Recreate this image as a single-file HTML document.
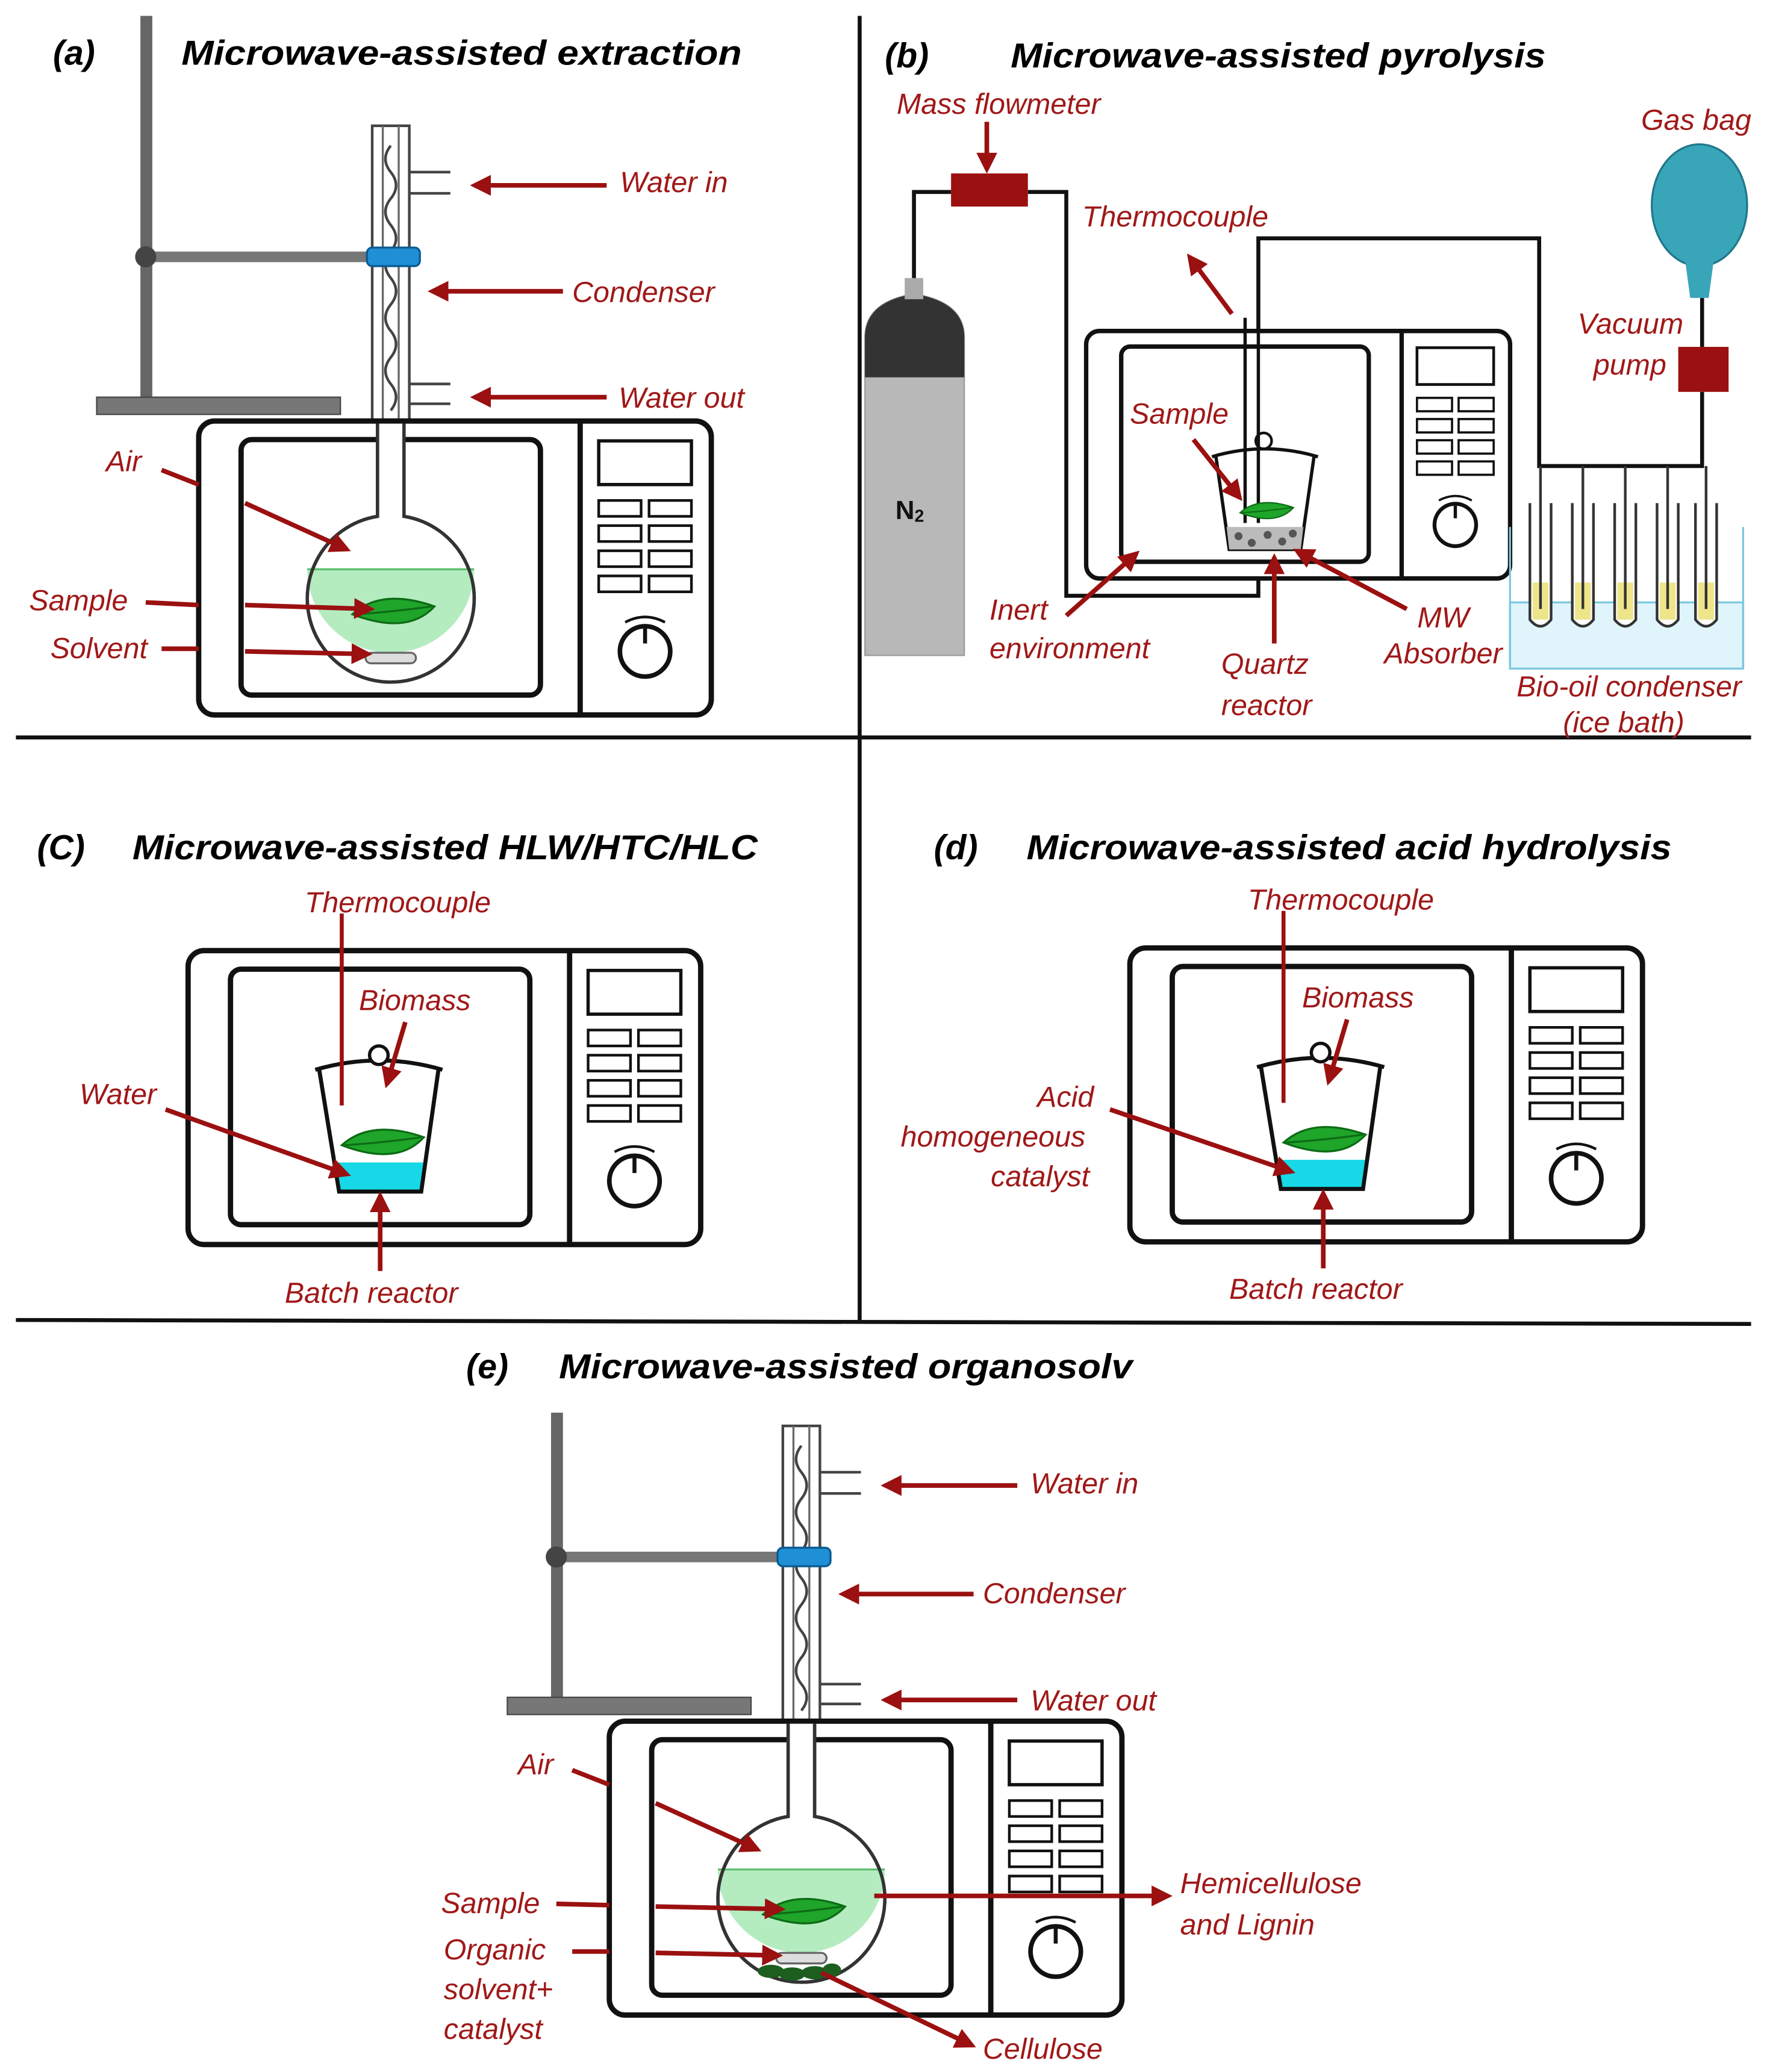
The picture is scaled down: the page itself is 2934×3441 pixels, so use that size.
<!DOCTYPE html>
<html><head><meta charset="utf-8">
<style>
html,body{margin:0;padding:0;background:#fff;}
svg{display:block;}
.t{font-family:"Liberation Sans",sans-serif;font-weight:bold;font-style:italic;font-size:26px;fill:#000;}
.l{font-family:"Liberation Sans",sans-serif;font-style:italic;font-size:22px;fill:#a01818;}
.a{stroke:#9b1010;stroke-width:3.5;fill:none;}
.k{stroke:#111;fill:none;}
</style></head>
<body>
<svg width="2934" height="3441" viewBox="0 0 1334 1565" preserveAspectRatio="none" xmlns="http://www.w3.org/2000/svg">
<defs>
<marker id="ar" viewBox="0 0 10 10" refX="8" refY="5" markerWidth="4.5" markerHeight="4.5" orient="auto-start-reverse">
<path d="M0,0 L10,5 L0,10 z" fill="#9b1010"/></marker>
<g id="leaf">
<path d="M-32,2 Q-10,-18 30,-4 Q10,18 -32,2 z" fill="#1ea52a" stroke="#0d6b15" stroke-width="1.5"/>
<path d="M-30,2 Q0,0 28,-4" stroke="#0d6b15" stroke-width="1.5" fill="none"/>
</g>
<g id="mw">
<rect x="0" y="0" width="387" height="222" rx="12" fill="#fff" stroke="#111" stroke-width="4"/>
<rect x="32" y="14" width="226" height="193" rx="8" fill="#fff" stroke="#111" stroke-width="4"/>
<line x1="288" y1="0" x2="288" y2="222" stroke="#111" stroke-width="4"/>
<rect x="302" y="15" width="70" height="33" fill="#fff" stroke="#111" stroke-width="2.5"/>
<g fill="#fff" stroke="#111" stroke-width="2">
<rect x="302" y="60" width="32" height="12"/><rect x="340" y="60" width="32" height="12"/>
<rect x="302" y="79" width="32" height="12"/><rect x="340" y="79" width="32" height="12"/>
<rect x="302" y="98" width="32" height="12"/><rect x="340" y="98" width="32" height="12"/>
<rect x="302" y="117" width="32" height="12"/><rect x="340" y="117" width="32" height="12"/>
</g>
<circle cx="337" cy="174" r="19" fill="#fff" stroke="#111" stroke-width="3.5"/>
<line x1="337" y1="155" x2="337" y2="168" stroke="#111" stroke-width="3"/>
<path d="M322,152 Q337,144 352,152" stroke="#111" stroke-width="2" fill="none"/>
</g>
<g id="ext">
<rect x="73" y="300" width="184" height="13" fill="#777" stroke="#444" stroke-width="1"/>
<rect x="110" y="190" width="172" height="8" fill="#777"/>
<rect x="281" y="95" width="28" height="228" fill="#fff" stroke="#444" stroke-width="2"/>
<path d="M289,95 L289,320 M301,95 L301,320" stroke="#666" stroke-width="1.5" fill="none"/>
<path d="M295,110 q-8,10 0,20 q8,10 0,20 q-8,10 0,20 q8,10 0,20 q-8,10 0,20 q8,10 0,20 q-8,10 0,20 q8,10 0,20 q-8,10 0,20 q8,10 0,20" stroke="#444" stroke-width="2" fill="none"/>
<path d="M309,130 L340,130 M309,146 L340,146 M309,290 L340,290 M309,305 L340,305" stroke="#444" stroke-width="2"/>
<rect x="277" y="187" width="40" height="14" rx="4" fill="#1f8fd6" stroke="#0b5a90" stroke-width="1.5"/>
<use href="#mw" x="150" y="318"/>
<path d="M285,320 L285,390 A63,63 0 1 0 305,390 L305,320" fill="#fff" stroke="#333" stroke-width="2.5"/>
<path d="M232,430 L358,430 A63,63 0 0 1 232,430 z" fill="#b4ecc0"/>
<line x1="232" y1="430" x2="358" y2="430" stroke="#5bbf6e" stroke-width="1.5"/>
<path d="M285,320 L285,390 A63,63 0 1 0 305,390 L305,320" fill="none" stroke="#333" stroke-width="2.5"/>
<use href="#leaf" x="298" y="462"/>
<rect x="276" y="493" width="38" height="8" rx="4" fill="#ddd" stroke="#666" stroke-width="1.5"/>
</g>
<g id="beaker">
<path d="M-45,0 L-30,92 L32,92 L45,0" fill="#fff" stroke="#111" stroke-width="3"/>
<path d="M-48,0 Q0,-14 48,0" fill="none" stroke="#111" stroke-width="3"/>
<circle cx="0" cy="-11" r="7" fill="#fff" stroke="#111" stroke-width="2.5"/>
<path d="M-35,70 L35,70 L32,92 L-30,92 z" fill="#16d8e6"/>
<path d="M-45,0 L-30,92 L32,92 L45,0" fill="none" stroke="#111" stroke-width="3"/>
<use href="#leaf" x="4" y="55"/>
</g>
</defs>

<line x1="12" y1="557" x2="1322" y2="557" stroke="#111" stroke-width="3"/>
<line x1="12" y1="997" x2="1322" y2="1000" stroke="#111" stroke-width="3"/>
<line x1="649" y1="12" x2="649" y2="997" stroke="#111" stroke-width="3"/>

<!-- (a) -->
<text class="t" x="40" y="49">(a)</text>
<text class="t" x="137" y="49" textLength="423" lengthAdjust="spacingAndGlyphs">Microwave-assisted extraction</text>
<rect x="106" y="12" width="9" height="290" fill="#666"/>
<use href="#ext"/>
<circle cx="110" cy="194" r="8" fill="#444"/>
<line class="a" x1="458" y1="140" x2="358" y2="140" marker-end="url(#ar)"/>
<text class="l" x="468" y="145">Water in</text>
<line class="a" x1="425" y1="220" x2="326" y2="220" marker-end="url(#ar)"/>
<text class="l" x="432" y="228">Condenser</text>
<line class="a" x1="458" y1="300" x2="358" y2="300" marker-end="url(#ar)"/>
<text class="l" x="467" y="308">Water out</text>
<text class="l" x="80" y="356">Air</text>
<line class="a" x1="122" y1="355" x2="150" y2="366"/>
<line class="a" x1="185" y1="380" x2="262" y2="415" marker-end="url(#ar)"/>
<text class="l" x="22" y="461">Sample</text>
<line class="a" x1="110" y1="455" x2="150" y2="457"/>
<line class="a" x1="185" y1="457" x2="280" y2="460" marker-end="url(#ar)"/>
<text class="l" x="38" y="497">Solvent</text>
<line class="a" x1="122" y1="490" x2="150" y2="490"/>
<line class="a" x1="185" y1="492" x2="278" y2="494" marker-end="url(#ar)"/>

<!-- (b) -->
<text class="t" x="668" y="51">(b)</text>
<text class="t" x="763" y="51" textLength="404" lengthAdjust="spacingAndGlyphs">Microwave-assisted pyrolysis</text>
<path d="M690,215 L690,145 L718,145 M776,145 L805,145 L805,450 L950,450 L950,418" class="k" stroke-width="3"/>
<path d="M950,390 L950,180 L1162,180 L1162,352 L1285,352 L1285,296 M1285,262 L1285,225" class="k" stroke-width="3"/>
<rect x="718" y="131" width="58" height="25" fill="#9b1010"/>
<text class="l" x="677" y="86">Mass flowmeter</text>
<line class="a" x1="745" y1="92" x2="745" y2="128" marker-end="url(#ar)"/>
<path d="M653,495 L653,255 Q653,228 690,222 Q728,228 728,255 L728,495 z" fill="#b8b8b8" stroke="#999" stroke-width="1"/>
<path d="M653,285 L653,255 Q653,228 690,222 Q728,228 728,255 L728,285 z" fill="#333"/>
<rect x="683" y="210" width="14" height="16" fill="#aaa"/>
<text x="676" y="392" font-family="Liberation Sans,sans-serif" font-weight="bold" font-size="20" fill="#111">N<tspan font-size="13" dy="2">2</tspan></text>
<use href="#mw" transform="translate(820,250) scale(0.827,0.842)"/>
<path d="M918,345 L928,415 L982,415 L992,345" fill="#fff" stroke="#111" stroke-width="2.5"/>
<path d="M915,345 Q955,333 995,345" fill="none" stroke="#111" stroke-width="2.5"/>
<circle cx="954" cy="333" r="6" fill="#fff" stroke="#111" stroke-width="2"/>
<path d="M926,398 L984,398 L982,415 L928,415 z" fill="#bbb"/>
<g fill="#555"><circle cx="935" cy="405" r="3"/><circle cx="945" cy="410" r="3"/><circle cx="957" cy="404" r="3"/><circle cx="968" cy="409" r="3"/><circle cx="976" cy="403" r="3"/></g>
<line x1="940" y1="240" x2="940" y2="395" stroke="#111" stroke-width="2.5"/>
<line x1="950" y1="180" x2="950" y2="395" stroke="#111" stroke-width="2.5"/>
<use href="#leaf" transform="translate(957,386) scale(0.65)"/>
<text class="l" x="817" y="171">Thermocouple</text>
<line class="a" x1="930" y1="237" x2="898" y2="194" marker-end="url(#ar)"/>
<text class="l" x="853" y="320">Sample</text>
<line class="a" x1="901" y1="332" x2="936" y2="376" marker-end="url(#ar)"/>
<text class="l" x="747" y="468">Inert</text>
<text class="l" x="747" y="497">environment</text>
<line class="a" x1="805" y1="465" x2="858" y2="418" marker-end="url(#ar)"/>
<text class="l" x="922" y="509">Quartz</text>
<text class="l" x="922" y="540">reactor</text>
<line class="a" x1="962" y1="486" x2="962" y2="421" marker-end="url(#ar)"/>
<text class="l" x="1070" y="474" font-size="20">MW</text>
<text class="l" x="1045" y="501" font-size="20">Absorber</text>
<line class="a" x1="1062" y1="460" x2="979" y2="416" marker-end="url(#ar)"/>
<ellipse cx="1283" cy="155" rx="36" ry="46" fill="#38a6b8" stroke="#21778a" stroke-width="1.5"/>
<path d="M1272,195 L1276,225 L1290,225 L1294,195 z" fill="#38a6b8"/>
<rect x="1267" y="262" width="38" height="34" fill="#9b1010"/>
<text class="l" x="1239" y="98" font-size="20">Gas bag</text>
<text class="l" x="1191" y="252">Vacuum</text>
<text class="l" x="1203" y="283">pump</text>
<rect x="1140" y="455" width="176" height="50" fill="#dff4fb" stroke="#7cc8df" stroke-width="1.5"/>
<path d="M1140,398 L1140,505 M1316,398 L1316,505" stroke="#7cc8df" stroke-width="1.5"/>
<g fill="#fff" stroke="#333" stroke-width="2">
<path d="M1155,380 L1155,468 Q1163,478 1171,468 L1171,380"/>
<path d="M1187,380 L1187,468 Q1195,478 1203,468 L1203,380"/>
<path d="M1219,380 L1219,468 Q1227,478 1235,468 L1235,380"/>
<path d="M1251,380 L1251,468 Q1259,478 1267,468 L1267,380"/>
<path d="M1280,380 L1280,468 Q1288,478 1296,468 L1296,380"/>
</g>
<g fill="#eee58a"><rect x="1157" y="440" width="12" height="28"/><rect x="1189" y="440" width="12" height="28"/><rect x="1221" y="440" width="12" height="28"/><rect x="1253" y="440" width="12" height="28"/><rect x="1282" y="440" width="12" height="28"/></g>
<g stroke="#333" stroke-width="2"><line x1="1163" y1="352" x2="1163" y2="460"/><line x1="1195" y1="352" x2="1195" y2="460"/><line x1="1227" y1="352" x2="1227" y2="460"/><line x1="1259" y1="352" x2="1259" y2="460"/><line x1="1288" y1="352" x2="1288" y2="460"/></g>
<text class="l" x="1145" y="526" font-size="20">Bio-oil condenser</text>
<text class="l" x="1180" y="553" font-size="20">(ice bath)</text>

<!-- (c) -->
<text class="t" x="28" y="649">(C)</text>
<text class="t" x="100" y="649" textLength="472" lengthAdjust="spacingAndGlyphs">Microwave-assisted HLW/HTC/HLC</text>
<use href="#mw" x="142" y="718"/>
<use href="#beaker" x="286" y="808"/>
<line x1="258" y1="690" x2="258" y2="835" stroke="#9b1010" stroke-width="3"/>
<text class="l" x="230" y="689">Thermocouple</text>
<text class="l" x="271" y="763">Biomass</text>
<line class="a" x1="306" y1="772" x2="292" y2="819" marker-end="url(#ar)"/>
<text class="l" x="60" y="834">Water</text>
<line class="a" x1="125" y1="838" x2="262" y2="887" marker-end="url(#ar)"/>
<text class="l" x="215" y="984">Batch reactor</text>
<line class="a" x1="287" y1="960" x2="287" y2="903" marker-end="url(#ar)"/>

<!-- (d) -->
<text class="t" x="705" y="649">(d)</text>
<text class="t" x="775" y="649" textLength="487" lengthAdjust="spacingAndGlyphs">Microwave-assisted acid hydrolysis</text>
<use href="#mw" x="853" y="716"/>
<use href="#beaker" x="997" y="806"/>
<line x1="969" y1="688" x2="969" y2="833" stroke="#9b1010" stroke-width="3"/>
<text class="l" x="942" y="687">Thermocouple</text>
<text class="l" x="983" y="761">Biomass</text>
<line class="a" x1="1017" y1="770" x2="1003" y2="817" marker-end="url(#ar)"/>
<text class="l" x="783" y="836">Acid</text>
<text class="l" x="680" y="866">homogeneous</text>
<text class="l" x="748" y="896">catalyst</text>
<line class="a" x1="838" y1="838" x2="975" y2="885" marker-end="url(#ar)"/>
<text class="l" x="928" y="981">Batch reactor</text>
<line class="a" x1="999" y1="958" x2="999" y2="901" marker-end="url(#ar)"/>

<!-- (e) -->
<text class="t" x="352" y="1041">(e)</text>
<text class="t" x="422" y="1041" textLength="433" lengthAdjust="spacingAndGlyphs">Microwave-assisted organosolv</text>
<rect x="416" y="1067" width="9" height="217" fill="#666"/>
<use href="#ext" x="310" y="982"/>
<circle cx="420" cy="1176" r="8" fill="#444"/>
<g fill="#1d5e1f"><ellipse cx="582" cy="1489" rx="10" ry="5"/><ellipse cx="598" cy="1491" rx="10" ry="5"/><ellipse cx="615" cy="1490" rx="10" ry="5"/><ellipse cx="628" cy="1488" rx="7" ry="5"/></g>
<line class="a" x1="768" y1="1122" x2="668" y2="1122" marker-end="url(#ar)"/>
<text class="l" x="778" y="1128">Water in</text>
<line class="a" x1="735" y1="1204" x2="636" y2="1204" marker-end="url(#ar)"/>
<text class="l" x="742" y="1211">Condenser</text>
<line class="a" x1="768" y1="1284" x2="668" y2="1284" marker-end="url(#ar)"/>
<text class="l" x="778" y="1292">Water out</text>
<text class="l" x="391" y="1340">Air</text>
<line class="a" x1="432" y1="1337" x2="460" y2="1348"/>
<line class="a" x1="495" y1="1362" x2="572" y2="1397" marker-end="url(#ar)"/>
<text class="l" x="333" y="1445">Sample</text>
<line class="a" x1="420" y1="1438" x2="460" y2="1439"/>
<line class="a" x1="495" y1="1440" x2="590" y2="1442" marker-end="url(#ar)"/>
<text class="l" x="335" y="1480">Organic</text>
<text class="l" x="335" y="1510">solvent+</text>
<text class="l" x="335" y="1540">catalyst</text>
<line class="a" x1="432" y1="1474" x2="460" y2="1474"/>
<line class="a" x1="495" y1="1475" x2="588" y2="1477" marker-end="url(#ar)"/>
<line class="a" x1="660" y1="1432" x2="882" y2="1432" marker-end="url(#ar)"/>
<text class="l" x="891" y="1430">Hemicellulose</text>
<text class="l" x="891" y="1461">and Lignin</text>
<line class="a" x1="620" y1="1490" x2="734" y2="1545" marker-end="url(#ar)"/>
<text class="l" x="742" y="1555">Cellulose</text>
</svg>
</body></html>
